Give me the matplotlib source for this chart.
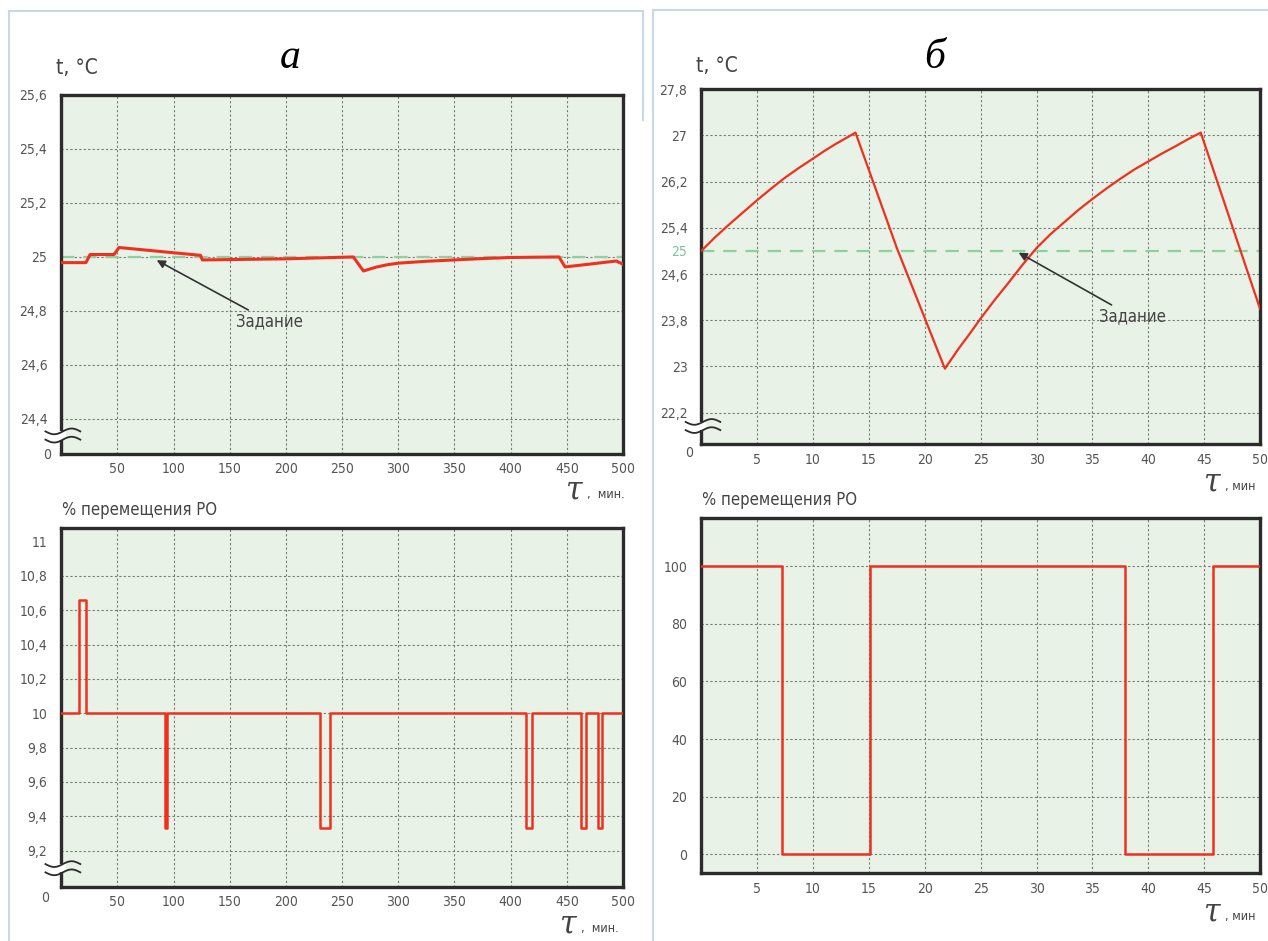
import matplotlib
matplotlib.use("Agg")
import matplotlib.pyplot as plt
import numpy as np
from matplotlib.lines import Line2D
from matplotlib.patches import Rectangle

# ---------------- data ----------------
# panel a (top-left): temperature, t in minutes
ta_time = [0, 22, 25.7, 47, 51.5, 124, 125.6, 200, 260, 269, 280, 290, 300, 325,
           350, 375, 400, 443, 448.5, 494, 500]
ta_temp = [24.979, 24.979, 25.009, 25.009, 25.035, 25.006, 24.989, 24.993, 25.0,
           24.948, 24.962, 24.971, 24.977, 24.984, 24.989, 24.994, 24.998, 25.0,
           24.963, 24.985, 24.973]
ta_setpoint = 25.0
ta_yticks = [24.4, 24.6, 24.8, 25.0, 25.2, 25.4, 25.6]
ta_ylabels = ["24,4", "24,6", "24,8", "25", "25,2", "25,4", "25,6"]
ta_xticks = [50, 100, 150, 200, 250, 300, 350, 400, 450, 500]

# panel b (top-right): temperature
tb_time = [0, 1.25, 2.5, 3.75, 5, 6.25, 7.5, 8.75, 10, 11, 12, 13, 13.8, 17.5, 21.8,
           23, 24, 25, 26.25, 27.5, 28.75, 30, 31.25, 32.5, 33.75, 35, 36.25, 37.5,
           38.75, 40, 41.25, 42.5, 43.6, 44.7, 50]
tb_temp = [25.0, 25.24, 25.46, 25.67, 25.88, 26.08, 26.27, 26.44, 26.6, 26.73, 26.85,
           26.96, 27.05, 25.05, 22.96, 23.3, 23.56, 23.83, 24.15, 24.45, 24.76, 25.05,
           25.29, 25.5, 25.71, 25.9, 26.08, 26.25, 26.41, 26.55, 26.69, 26.82, 26.94,
           27.05, 24.0]
tb_setpoint = 25.0
tb_yticks = [22.2, 23.0, 23.8, 24.6, 25.0, 25.4, 26.2, 27.0, 27.8]
tb_ylabels = ["22,2", "23", "23,8", "24,6", "25", "25,4", "26,2", "27", "27,8"]
tb_xticks = [5, 10, 15, 20, 25, 30, 35, 40, 45, 50]

# panel a (bottom-left): valve position, %
pa_time = [0, 15.5, 22, 92.2, 93.8, 230.7, 239, 413.6, 419, 462.7, 467, 478, 481.6, 500]
pa_val = [10, 10.66, 10, 9.33, 10, 9.33, 10, 9.33, 10, 9.33, 10, 9.33, 10, 10]
pa_yticks = [9.2, 9.4, 9.6, 9.8, 10.0, 10.2, 10.4, 10.6, 10.8, 11.0]
pa_ylabels = ["9,2", "9,4", "9,6", "9,8", "10", "10,2", "10,4", "10,6", "10,8", "11"]

# panel b (bottom-right): valve position, %
pb_time = [0, 7.2, 15.1, 37.9, 45.8, 50]
pb_val = [100, 0, 100, 0, 100, 100]
pb_yticks = [0, 20, 40, 60, 80, 100]
pb_ylabels = ["0", "20", "40", "60", "80", "100"]

# ---------------- style ----------------
W, H = 1268, 941
BG = "#e8f2e6"
RED = "#f0301e"
GRIDC = "#7a7a7a"
SPINE = "#2b2b2b"
TXT = "#555555"
plt.rcParams["font.family"] = ["DejaVu Sans"]
plt.rcParams["font.stretch"] = "condensed"

fig = plt.figure(figsize=(W / 100, H / 100), dpi=100)
fig.patch.set_facecolor("white")


def rect(x0, y0, x1, y1):
    return [x0 / W, 1 - y1 / H, (x1 - x0) / W, (y1 - y0) / H]


def fx(x):
    return x / W


def fy(y):
    return 1 - y / H


def style_axes(ax, xlim, ylim, xticks, yticks, ylabels, skip_grid=()):
    ax.set_facecolor(BG)
    ax.set_xlim(*xlim)
    ax.set_ylim(*ylim)
    ax.set_xticks(xticks)
    ax.set_xticklabels([str(v) for v in xticks])
    ax.set_yticks(yticks)
    ax.set_yticklabels(ylabels)
    ax.tick_params(length=0, labelsize=10, labelcolor=TXT)
    ax.tick_params(axis="y", pad=10)
    ax.tick_params(axis="x", pad=6)
    ax.grid(True, color=GRIDC, linestyle=(0, (2, 2)), linewidth=0.8)
    for v, gl in zip(yticks, ax.get_ygridlines()):
        if v in skip_grid:
            gl.set_visible(False)
    for s in ax.spines.values():
        s.set_color(SPINE)
        s.set_linewidth(2.4)
    ax.set_axisbelow(True)


def break_mark(ax):
    # gap in the left spine with two wavy strokes
    ax.add_patch(Rectangle((-0.008, 0.040), 0.016, 0.023, transform=ax.transAxes,
                           facecolor="white", edgecolor="none", clip_on=False, zorder=5))
    xs = np.linspace(-0.028, 0.034, 40)
    for y0 in (0.063, 0.040):
        ys = y0 + 0.008 * np.sin((xs + 0.028) / 0.062 * 2 * np.pi + np.pi)
        ax.plot(xs, ys, color=SPINE, lw=1.3, transform=ax.transAxes,
                clip_on=False, zorder=6)


# ---------- top-left ----------
ax1 = fig.add_axes(rect(61.2, 95, 623, 454))
style_axes(ax1, (0, 500), (24.27, 25.6), ta_xticks, ta_yticks, ta_ylabels)
ax1.axhline(ta_setpoint, color="#8fd0a0", lw=1.6, linestyle=(0, (6, 4)), zorder=2)
ax1.plot(ta_time, ta_temp, color=RED, lw=2.2, zorder=3)
ax1.annotate("Задание", xy=(85, 24.988), xytext=(156, 24.76), fontsize=12,
             color="#444444", va="center", ha="left",
             arrowprops=dict(arrowstyle="-|>", color="#333333", lw=1.2,
                             shrinkA=0, shrinkB=0, mutation_scale=12))
break_mark(ax1)

# ---------- top-right ----------
ax2 = fig.add_axes(rect(701.3, 89.3, 1260, 444.3))
style_axes(ax2, (0, 50), (21.65, 27.8), tb_xticks, tb_yticks, tb_ylabels,
           skip_grid=(25.0,))
for lbl, v in zip(ax2.get_yticklabels(), tb_yticks):
    if v == 25.0:
        lbl.set_color("#7cc49a")
ax2.axhline(tb_setpoint, color="#8fd0a0", lw=1.6, linestyle=(0, (6, 4)), zorder=2)
ax2.plot(tb_time, tb_temp, color=RED, lw=1.6, zorder=3)
ax2.annotate("Задание", xy=(28.4, 24.97), xytext=(35.6, 23.86), fontsize=12,
             color="#444444", va="center", ha="left",
             arrowprops=dict(arrowstyle="-|>", color="#333333", lw=1.2,
                             shrinkA=0, shrinkB=0, mutation_scale=12))
break_mark(ax2)

# ---------- bottom-left ----------
ax3 = fig.add_axes(rect(61.2, 527.7, 623, 886.7))
style_axes(ax3, (0, 500), (8.99, 11.08), ta_xticks, pa_yticks, pa_ylabels,
           skip_grid=(11.0,))
ax3.step(pa_time, pa_val, where="post", color=RED, lw=1.8, zorder=3)
break_mark(ax3)

# ---------- bottom-right ----------
ax4 = fig.add_axes(rect(701.3, 517.7, 1260, 873.3))
style_axes(ax4, (0, 50), (-6.6, 116.8), tb_xticks, pb_yticks, pb_ylabels)
ax4.step(pb_time, pb_val, where="post", color=RED, lw=1.8, zorder=3)

# "0" origin labels
fig.text(fx(47), fy(455), "0", fontsize=10, color=TXT, ha="center", va="center")
fig.text(fx(689), fy(453), "0", fontsize=10, color=TXT, ha="center", va="center")
fig.text(fx(45), fy(898), "0", fontsize=10, color=TXT, ha="center", va="center")

# axis titles
fig.text(fx(56), fy(68), "t, °C", fontsize=15, color="#444444", ha="left", va="center")
fig.text(fx(696), fy(66), "t, °C", fontsize=15, color="#444444", ha="left", va="center")
fig.text(fx(62), fy(510), "% перемещения РО", fontsize=12, color="#444444",
         ha="left", va="center")
fig.text(fx(702), fy(500), "% перемещения РО", fontsize=12, color="#444444",
         ha="left", va="center")

# time axis labels
for (x, y, s) in [(565, 500, ",  мин."), (1203, 492, ", мин"), (559, 934, ",  мин."),
                  (1203, 922, ", мин")]:
    fig.text(fx(x), fy(y), "τ", fontsize=24, color="#444444", ha="left",
             va="baseline", family=["DejaVu Serif"], style="italic")
    fig.text(fx(x + 22), fy(y - 2), s, fontsize=9, color="#444444",
             ha="left", va="baseline")

# panel letters
fig.text(fx(290), fy(68), "а", fontsize=30, ha="center", va="baseline",
         family=["Liberation Serif", "DejaVu Serif"], style="italic")
fig.text(fx(935), fy(68), "б", fontsize=30, ha="center", va="baseline",
         family=["Liberation Serif", "DejaVu Serif"], style="italic")

# light panel borders
BC = "#c9d8e6"
for (x0, y0, x1, y1) in [(9, 11, 9, 941), (9, 11, 643, 11), (643, 11, 643, 120),
                         (653, 10, 653, 941), (653, 10, 1268, 10)]:
    fig.add_artist(Line2D([fx(x0), fx(x1)], [fy(y0), fy(y1)], color=BC, lw=1.5,
                          transform=fig.transFigure))

fig.savefig("out.png", dpi=100, facecolor="white")
